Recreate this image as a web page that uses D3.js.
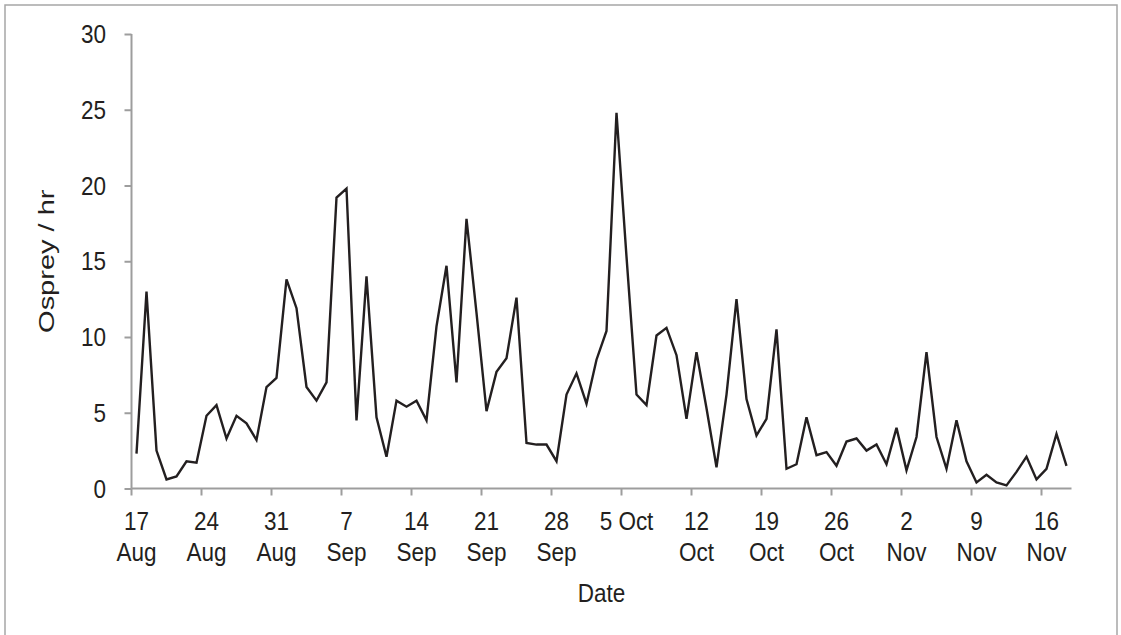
<!DOCTYPE html>
<html>
<head>
<meta charset="utf-8">
<script src="https://cdn.jsdelivr.net/npm/d3@7"></script>
<style>
  html, body { margin: 0; padding: 0; background: #fff; }
  svg { display: block; }
  text { font-family: "Liberation Sans", Arial, Helvetica, sans-serif; fill: #231f20; }
</style>
</head>
<body>
<svg id="chart" width="1121" height="635"></svg>
<script>
// Daily osprey passage rate (birds per hour), 17 Aug – 18 Nov
const dayCount = 94;
const ospreyPerHour = [
  2.3, 13.0, 2.5, 0.6, 0.8, 1.8, 1.7, 4.8, 5.5, 3.3,
  4.8, 4.3, 3.2, 6.7, 7.3, 13.8, 11.9, 6.7, 5.8, 7.0,
  19.2, 19.8, 4.5, 14.0, 4.7, 2.1, 5.8, 5.4, 5.8, 4.5,
  10.7, 14.7, 7.0, 17.8, 11.6, 5.1, 7.7, 8.6, 12.6, 3.0,
  2.9, 2.9, 1.8, 6.2, 7.6, 5.6, 8.5, 10.4, 24.8, 15.3,
  6.2, 5.5, 10.1, 10.6, 8.8, 4.6, 9.0, 5.3, 1.4, 6.2,
  12.5, 5.9, 3.5, 4.6, 10.5, 1.3, 1.6, 4.7, 2.2, 2.4,
  1.5, 3.1, 3.3, 2.5, 2.9, 1.6, 4.0, 1.2, 3.4, 9.0,
  3.4, 1.3, 4.5, 1.8, 0.4, 0.9, 0.4, 0.2, 1.1, 2.1,
  0.6, 1.3, 3.6, 1.5
];
// Weekly date labels (one per 7 days), split over two lines
const weekLabels = [
  ["17", "Aug"], ["24", "Aug"], ["31", "Aug"], ["7", "Sep"], ["14", "Sep"],
  ["21", "Sep"], ["28", "Sep"], ["5 Oct"], ["12", "Oct"], ["19", "Oct"],
  ["26", "Oct"], ["2", "Nov"], ["9", "Nov"], ["16", "Nov"]
];
const yTicks = [0, 5, 10, 15, 20, 25, 30];
const xTitle = "Date";
const yTitle = "Osprey / hr";

const svg = d3.select("#chart");
const plot = { left: 131.5, right: 1071.5, top: 34, bottom: 488.5 };
const axisColor = "#9d9d9d";
const fontSize = 25;
const sx = 0.9; // horizontal squeeze of label glyphs

// Outer frame
svg.append("rect")
  .attr("x", 5).attr("y", 5).attr("width", 1112).attr("height", 640)
  .attr("fill", "none").attr("stroke", "#a6a6a6").attr("stroke-width", 1.5);

const days = d3.range(dayCount);
const x = d3.scaleBand().domain(days).range([plot.left, plot.right]).paddingInner(0).paddingOuter(0);
const xc = i => x(i) + x.bandwidth() / 2;
const y = d3.scaleLinear().domain([0, 30]).range([plot.bottom, plot.top]);

// Y axis
const yAxis = d3.axisLeft(y).tickValues(yTicks).tickSize(7).tickFormat("");
const gy = svg.append("g").attr("transform", `translate(${plot.left},0)`).call(yAxis);
gy.select(".domain").attr("stroke", axisColor).attr("stroke-width", 2).attr("d", `M0,${plot.top}V${plot.bottom}`);
gy.selectAll(".tick line").attr("stroke", axisColor).attr("stroke-width", 2);

svg.append("g").selectAll("text").data(yTicks).join("text")
  .attr("transform", d => `translate(106,${y(d) + 9}) scale(${sx},1)`)
  .attr("text-anchor", "end")
  .style("font-size", fontSize + "px")
  .text(d => d);

// X axis: ticks on week boundaries, labels centred on the labelled day
const weekStarts = weekLabels.map((_, k) => k * 7);
const gx = svg.append("g").attr("transform", `translate(0,${plot.bottom})`);
gx.append("path").attr("d", `M${plot.left},0H${plot.right}`).attr("stroke", axisColor).attr("stroke-width", 2).attr("fill", "none");
gx.selectAll("line").data(weekStarts).join("line")
  .attr("x1", d => x(d)).attr("x2", d => x(d))
  .attr("y1", 0).attr("y2", 7)
  .attr("stroke", axisColor).attr("stroke-width", 2);

const lbl = svg.append("g").selectAll("g").data(weekLabels).join("g")
  .attr("transform", (d, k) => `translate(${xc(weekStarts[k])},0)`);
lbl.each(function (lines) {
  const g = d3.select(this);
  lines.forEach((t, j) => {
    g.append("text")
      .attr("transform", `translate(0,${530 + j * 31}) scale(${sx},1)`)
      .attr("text-anchor", "middle")
      .style("font-size", fontSize + "px")
      .text(t);
  });
});

// Axis titles
svg.append("text")
  .attr("transform", `translate(${(plot.left + plot.right) / 2},602) scale(${sx},1)`)
  .attr("text-anchor", "middle")
  .style("font-size", fontSize + "px")
  .text(xTitle);
svg.append("text")
  .attr("transform", `translate(54,${(plot.top + plot.bottom) / 2}) rotate(-90) scale(1.16,${sx})`)
  .attr("text-anchor", "middle")
  .style("font-size", fontSize + "px")
  .text(yTitle);

// Series line
const line = d3.line().x((d, i) => xc(i)).y(d => y(d));
svg.append("path")
  .datum(ospreyPerHour)
  .attr("d", line)
  .attr("fill", "none")
  .attr("stroke", "#231f20")
  .attr("stroke-width", 2.4)
  .attr("stroke-linejoin", "miter");
</script>
</body>
</html>
